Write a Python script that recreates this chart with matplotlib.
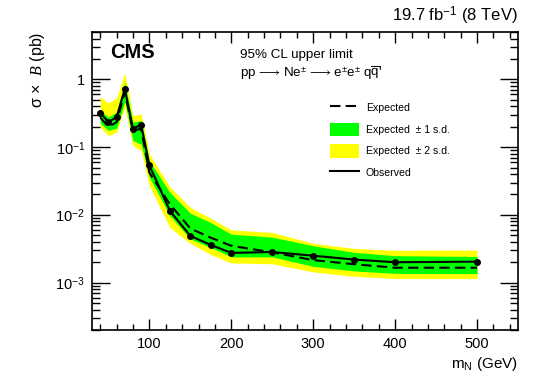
import math
import matplotlib
matplotlib.use("Agg")
import matplotlib.pyplot as plt
from matplotlib.lines import Line2D
from matplotlib.patches import Patch
from matplotlib.ticker import FixedLocator, MultipleLocator, LogLocator, FuncFormatter, NullFormatter

plt.rcParams['font.family'] = ['Liberation Sans', 'DejaVu Sans']
plt.rcParams['mathtext.fontset'] = 'custom'
plt.rcParams['mathtext.rm'] = 'Liberation Sans'
plt.rcParams['mathtext.it'] = 'Liberation Serif:italic'
plt.rcParams['mathtext.bf'] = 'Liberation Sans:bold'

# ---- data ----
mass = [40, 50, 60, 70, 80, 90, 100, 125, 150, 175, 200, 250, 300, 350, 400, 500]
observed = [0.32, 0.235, 0.275, 0.72, 0.186, 0.215, 0.054, 0.0115, 0.0049, 0.0036,
            0.00275, 0.00283, 0.0025, 0.00219, 0.0020, 0.00204]
expected = [0.275, 0.20, 0.233, 0.65, 0.176, 0.186, 0.042, 0.0144, 0.0063, 0.0046,
            0.0035, 0.0028, 0.00215, 0.00187, 0.00166, 0.00166]
exp_1s_up = [0.35, 0.277, 0.33, 0.91, 0.233, 0.247, 0.063, 0.0215, 0.0106, 0.0077,
             0.0052, 0.0047, 0.0035, 0.0028, 0.0025, 0.00243]
exp_1s_dn = [0.226, 0.176, 0.19, 0.47, 0.125, 0.11, 0.036, 0.0098, 0.0044, 0.0033,
             0.0024, 0.0024, 0.00174, 0.00149, 0.00137, 0.00136]
exp_2s_up = [0.55, 0.45, 0.53, 1.24, 0.29, 0.31, 0.079, 0.026, 0.0129, 0.0089,
             0.0060, 0.0055, 0.0038, 0.0032, 0.0030, 0.00302]
exp_2s_dn = [0.197, 0.148, 0.166, 0.39, 0.105, 0.089, 0.027, 0.0065, 0.0038, 0.0026,
             0.00195, 0.0019, 0.00144, 0.00124, 0.00115, 0.00115]

x_major_ticks = [100, 200, 300, 400, 500]
y_major_ticks = [1e-3, 1e-2, 1e-1, 1]
legend_labels = ["Expected", "Expected  ± 1 s.d.", "Expected  ± 2 s.d.", "Observed"]

W, H = 540, 390
fig = plt.figure(figsize=(W / 100, H / 100), dpi=100)
ax = fig.add_axes([92 / W, 1 - 330 / H, (518 - 92) / W, (330 - 32) / H])

yellow = "#ffff00"
green = "#00ff00"
dash = (0, (5, 2.5))
ax.fill_between(mass, exp_2s_dn, exp_2s_up, color=yellow, lw=0)
ax.fill_between(mass, exp_1s_dn, exp_1s_up, color=green, lw=0)
ax.plot(mass, expected, color="black", lw=1.5, ls=dash)
ax.plot(mass, observed, color="black", lw=1.5, marker="o", ms=4)

ax.set_yscale("log")
ax.set_xlim(30, 550)
ax.set_ylim(2e-4, 5)

ax.xaxis.set_major_locator(FixedLocator(x_major_ticks))
ax.xaxis.set_minor_locator(MultipleLocator(20))
ax.yaxis.set_major_locator(FixedLocator(y_major_ticks))
ax.yaxis.set_minor_locator(LogLocator(base=10, subs=range(2, 10), numticks=20))
ax.yaxis.set_minor_formatter(NullFormatter())


def yfmt(v, pos):
    if abs(v - 1) < 1e-9:
        return "1"
    e = int(round(math.log10(v)))
    return "$10^{%d}$" % e


ax.yaxis.set_major_formatter(FuncFormatter(yfmt))
ax.tick_params(which="both", direction="in", top=True, right=True, width=1, labelsize=10.5)
ax.tick_params(axis="x", which="major", length=8, pad=5)
ax.tick_params(axis="x", which="minor", length=4)
ax.tick_params(axis="y", which="major", length=13, pad=5)
ax.tick_params(axis="y", which="minor", length=6)
for s in ax.spines.values():
    s.set_linewidth(1.2)

ax.set_xlabel("m$_\\mathrm{N}$ (GeV)", fontsize=11, loc="right", labelpad=3)
ax.set_ylabel("σ ×  $\\mathit{B}$ (pb)", fontsize=11.5, loc="top", labelpad=6)

fig.text(518 / W, 1 - 21 / H, "19.7 fb$^{-1}$ (8 TeV)", ha="right", va="baseline", fontsize=12)
fig.text(110 / W, 1 - 58 / H, "CMS", ha="left", va="baseline", fontsize=14.5, fontweight="bold")
fig.text(240 / W, 1 - 58 / H, "95% CL upper limit", ha="left", va="baseline", fontsize=9.6)
fig.text(240 / W, 1 - 76.5 / H,
         "pp$\\,\\longrightarrow\\,$Ne$^{\\pm}$$\\,\\longrightarrow\\,$e$^{\\pm}$e$^{\\pm}$ q$\\overline{\\mathrm{q}}$'",
         ha="left", va="baseline", fontsize=9.6)

handles = [
    Line2D([], [], color="black", lw=1.5, ls=dash),
    Patch(facecolor=green, edgecolor="none"),
    Patch(facecolor=yellow, edgecolor="none"),
    Line2D([], [], color="black", lw=1.5),
]
leg = fig.legend(handles, legend_labels, loc="upper left",
                 bbox_to_anchor=(330 / W, 1 - 101 / H), bbox_transform=fig.transFigure,
                 frameon=False, fontsize=7.6, handlelength=2.7, handleheight=1.55,
                 handletextpad=0.7, labelspacing=0.8, borderpad=0, borderaxespad=0)

fig.savefig("out.png", dpi=100)
